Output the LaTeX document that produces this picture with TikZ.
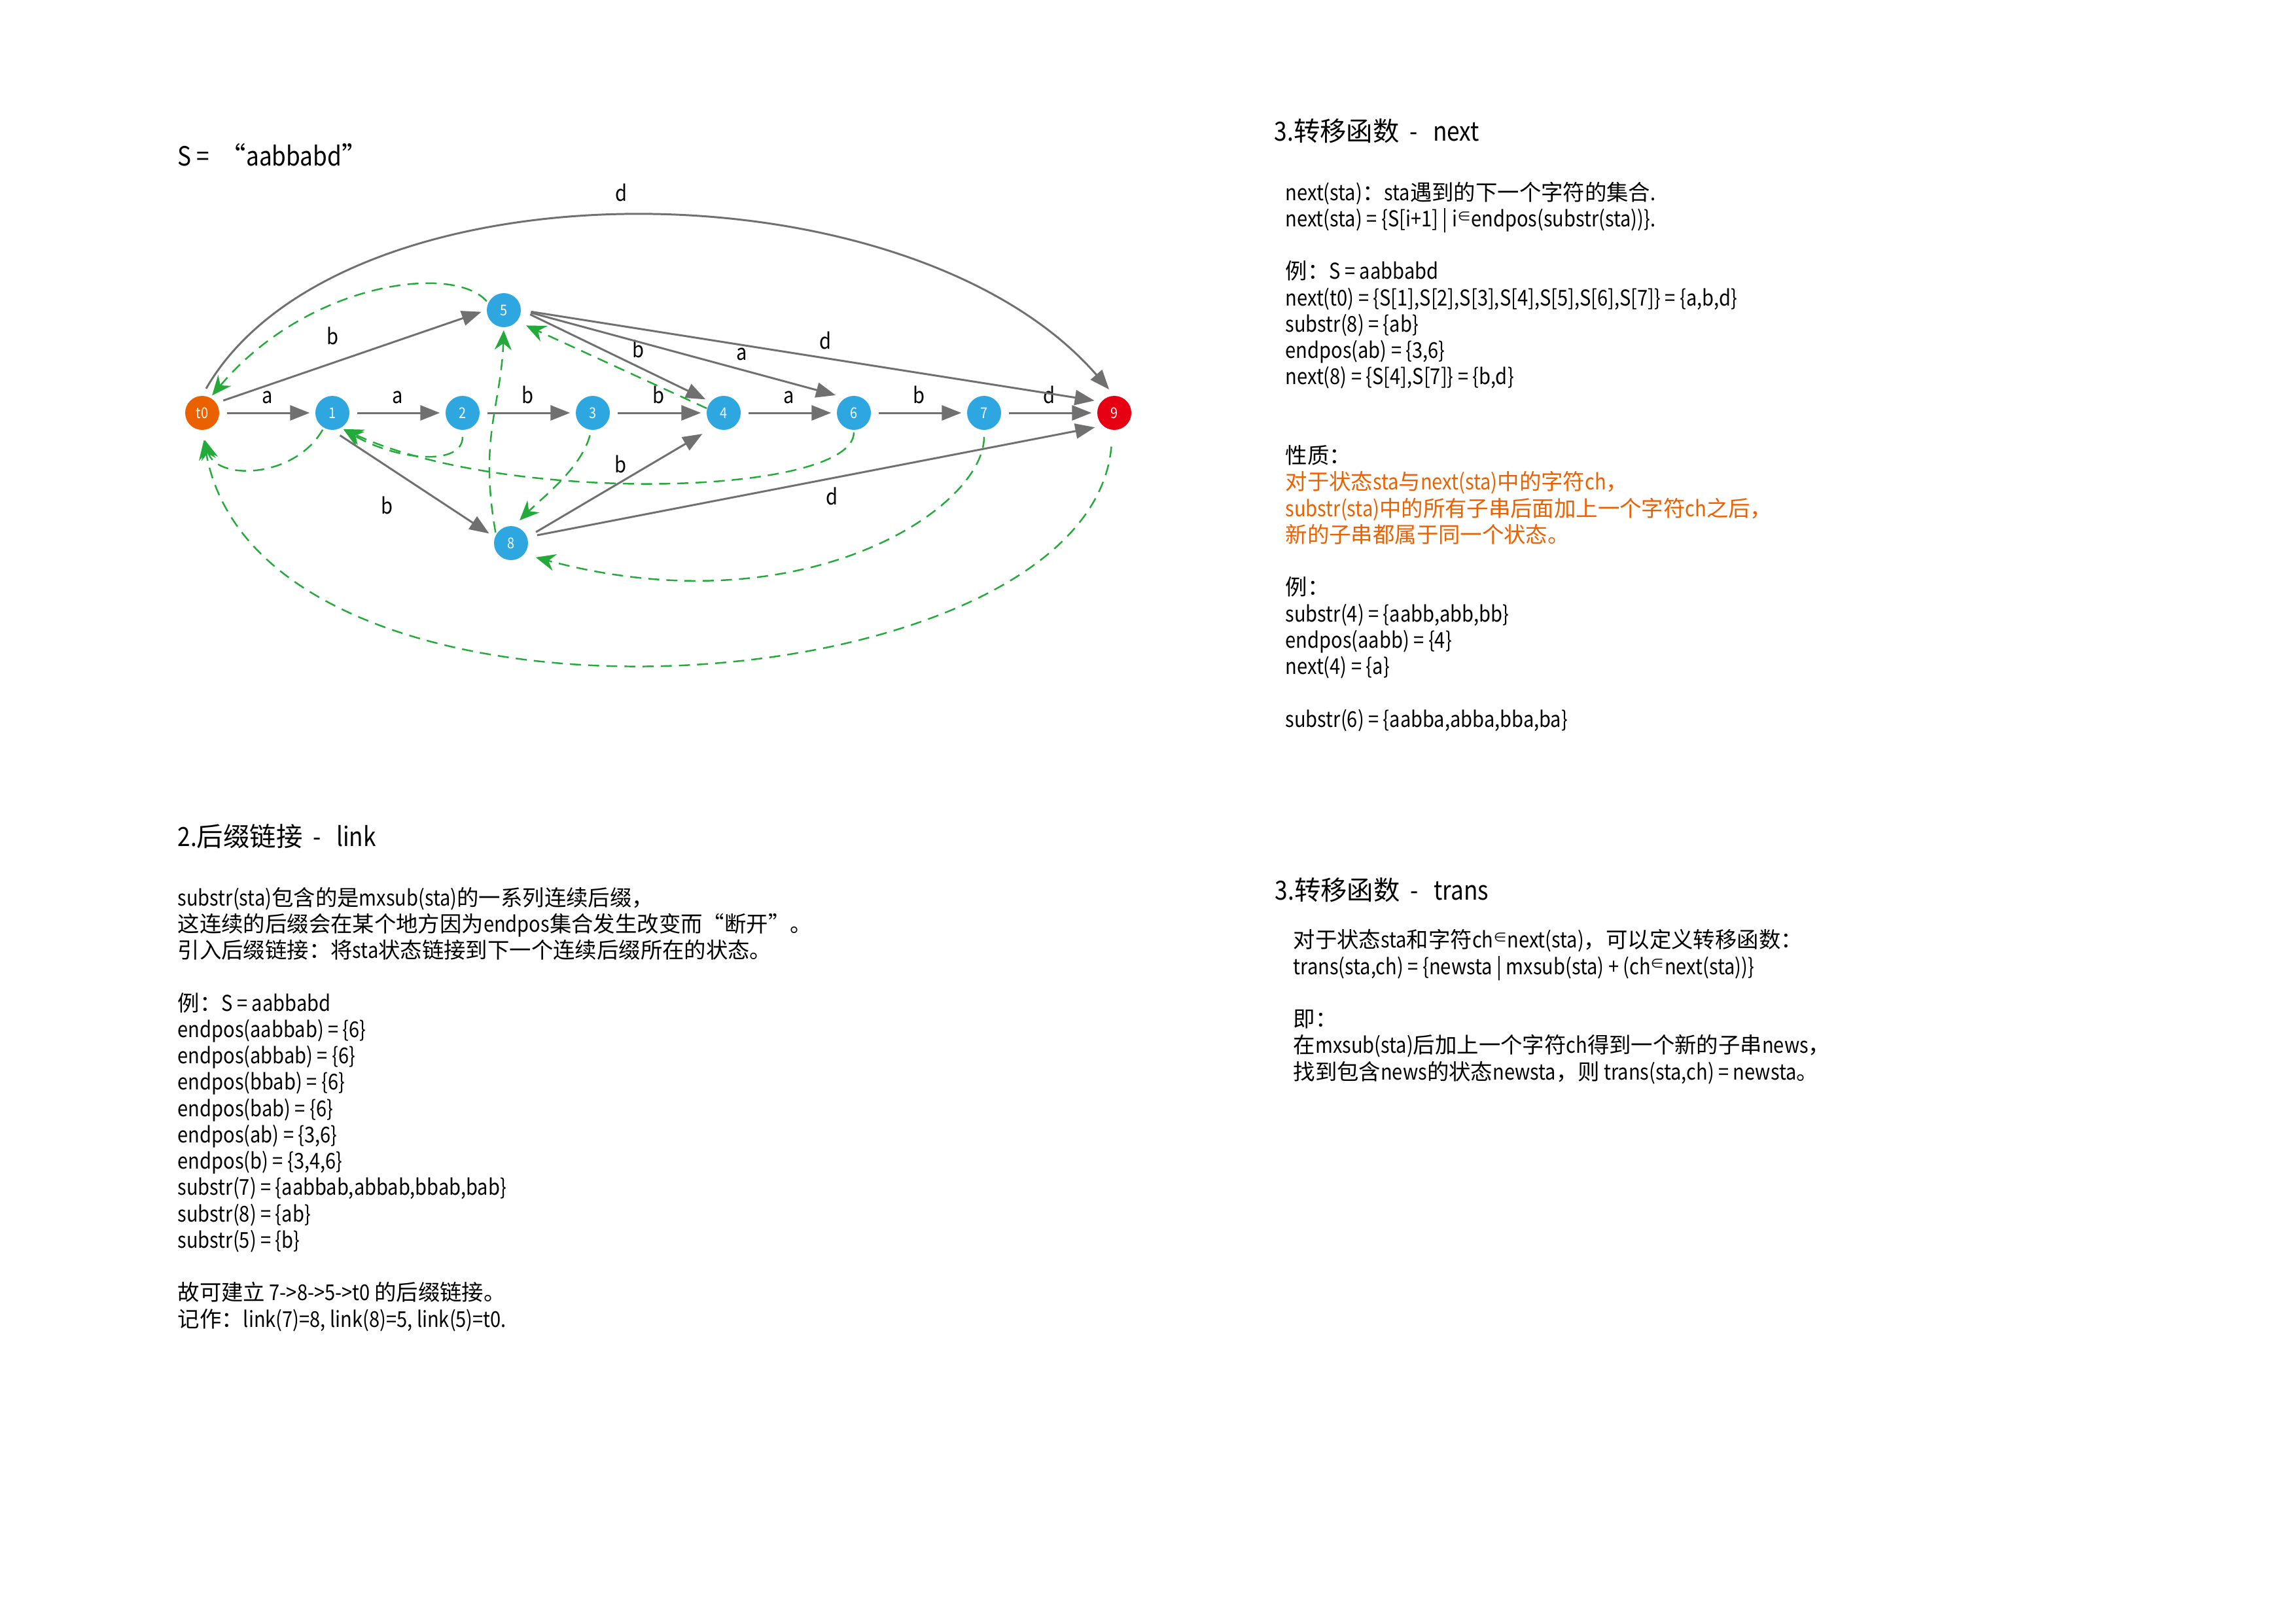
\documentclass[tikz,border=0pt]{standalone}
\usepackage{fontspec}
\newfontfamily\cjk{Noto Sans CJK SC}
\newfontfamily\latinfam[FakeStretch=0.87]{Noto Sans CJK SC}
\usetikzlibrary{arrows.meta}
\definecolor{startorange}{HTML}{EB6100}
\definecolor{stateblue}{HTML}{2EA7E0}
\definecolor{endred}{HTML}{E60012}
\definecolor{edgegray}{HTML}{707070}
\definecolor{linkgreen}{HTML}{24AA3A}
\newcommand{\smallin}{\raisebox{0.45ex}{\fontsize{6}{6}\selectfont ∈}}
% narrow latin letters, full width hanzi
\XeTeXinterchartokenstate=1
\newXeTeXintercharclass\hanziclass
\count255="4E00
\loop
  \XeTeXcharclass\count255=\hanziclass
  \advance\count255 by 1
\ifnum\count255<"A000 \repeat
\XeTeXcharclass"3002=\hanziclass
\XeTeXcharclass"FF1A=\hanziclass
\XeTeXcharclass"FF0C=\hanziclass
\XeTeXcharclass"201C=\hanziclass
\XeTeXcharclass"201D=\hanziclass
\XeTeXcharclass"2208=\hanziclass
\XeTeXinterchartoks 0 \hanziclass = {\cjk}
\XeTeXinterchartoks 4095 \hanziclass = {\cjk}
\XeTeXinterchartoks \hanziclass 0 = {\latinfam}
\XeTeXinterchartoks \hanziclass 4095 = {\latinfam}

\begin{document}
\begin{tikzpicture}[
  state/.style={circle,minimum size=0.52cm,inner sep=0pt,text=white,font=\latinfam\fontsize{6.5}{7}\selectfont},
  tedge/.style={draw=edgegray,line width=0.85pt,-{Triangle[length=0.3cm,width=0.23cm]},shorten <=0.11cm,shorten >=0.08cm},
  slink/.style={draw=linkgreen,line width=0.7pt,dash pattern=on 4.8pt off 3.1pt,-{Stealth[length=0.3cm,width=0.26cm,inset=0.1cm]},shorten <=0.03cm,shorten >=0.04cm},
  lbl/.style={font=\latinfam\fontsize{9.5}{11}\selectfont,inner sep=3.5pt},
  head/.style={anchor=base west,inner sep=0pt,font=\latinfam\fontsize{11.5}{14}\selectfont},
  body/.style={anchor=base west,align=left,inner sep=0pt,font=\latinfam\fontsize{9.5}{11.45}\selectfont}]
  \useasboundingbox (0,0) rectangle (35.09,-24.81);

  % States
  \node[state,fill=startorange] (t0) at (3.09,-6.31) {t0};
  \node[state,fill=stateblue] (n1) at (5.08,-6.31) {1};
  \node[state,fill=stateblue] (n2) at (7.07,-6.31) {2};
  \node[state,fill=stateblue] (n3) at (9.06,-6.31) {3};
  \node[state,fill=stateblue] (n4) at (11.06,-6.31) {4};
  \node[state,fill=stateblue] (n6) at (13.05,-6.31) {6};
  \node[state,fill=stateblue] (n7) at (15.04,-6.31) {7};
  \node[state,fill=endred] (n9) at (17.03,-6.31) {9};
  \node[state,fill=stateblue] (n5) at (7.70,-4.74) {5};
  \node[state,fill=stateblue] (n8) at (7.81,-8.30) {8};

  % Transitions
  \draw[tedge] (t0) -- node[lbl,above]{a} (n1);
  \draw[tedge] (n1) -- node[lbl,above]{a} (n2);
  \draw[tedge] (n2) -- node[lbl,above]{b} (n3);
  \draw[tedge] (n3) -- node[lbl,above]{b} (n4);
  \draw[tedge] (n4) -- node[lbl,above]{a} (n6);
  \draw[tedge] (n6) -- node[lbl,above]{b} (n7);
  \draw[tedge] (n7) -- node[lbl,above]{d} (n9);
  \draw[tedge] (t0.35) -- node[lbl,pos=0.43,above=4pt]{b} (n5.west);
  \draw[tedge,shorten <=0.12cm,shorten >=0.12cm] (t0.north) to[out=60,in=131,out distance=4.2cm,in distance=4.8cm] node[lbl,pos=0.49,above=3pt]{d} (n9.north);
  \draw[tedge,shorten <=0.15cm] (n5.east) -- node[lbl,pos=0.62,above]{b} (n4.140);
  \draw[tedge,shorten <=0.15cm,shorten >=0.15cm] (n5.east) -- node[lbl,pos=0.68,above]{a} (n6.120);
  \draw[tedge,shorten <=0.15cm,shorten >=0.1cm] (n5.east) -- node[lbl,pos=0.525,above]{d} (n9.140);
  \draw[tedge,shorten <=0.14cm,shorten >=0.1cm] (n1.south) -- node[lbl,pos=0.47,below left=3pt]{b} (n8.160);
  \draw[tedge,shorten <=0.15cm,shorten >=0.2cm] (n8.20) -- node[lbl,above]{b} (n4.235);
  \draw[tedge,shorten <=0.15cm,shorten >=0.12cm] (n8.20) -- node[lbl,pos=0.53,below]{d} (n9.228);

  % Suffix links
  \draw[slink,shorten >=0.15cm] (n1.240) .. controls +(240:0.9) and +(-75:0.8) .. (t0.270);
  \draw[slink,shorten <=0.1cm] (n2.270) .. controls +(270:0.55) and +(-30:1.0) .. (n1.-60);
  \draw[slink,shorten <=0.08cm,shorten >=0.12cm] (n3.265) .. controls +(255:0.6) and +(45:0.6) .. (n8.80);
  \draw[slink,shorten <=0cm,shorten >=0.15cm] (n4.165) -- (n5.-40);
  \draw[slink] (n5.155) .. controls +(131:0.8) and +(50:2.3) .. (t0.62);
  \draw[slink] (n6.270) .. controls +(270:1.0) and +(-25:2.8) .. (n1.-60);
  \draw[slink,shorten <=0.1cm,shorten >=0.18cm] (n7.270) .. controls +(270:1.2) and +(-15:4.4) .. (n8.-40);
  \draw[slink] (n8.150) .. controls +(100:1.5) and +(268:1.2) .. (n5.270);
  \draw[slink,shorten <=0.25cm,shorten >=0.15cm] (n9.265) .. controls +(265:4.3) and +(-80:5.2) .. (t0.270);

  % Text
  \node[head] (title) at (2.71,-2.53) {S =~~“aabbabd”};

  \node[head] (nexthead) at (19.47,-2.15) {3.转移函数~~-~~~next};
  \node[body] (nexttext) at (19.64,-11.11) {%
    next(sta)：sta遇到的下一个字符的集合.\\
    next(sta) = \{S[i+1] | i\smallin endpos(substr(sta))\}.\\[11.45pt]
    例：S = aabbabd\\
    next(t0) = \{S[1],S[2],S[3],S[4],S[5],S[6],S[7]\} = \{a,b,d\}\\
    substr(8) = \{ab\}\\
    endpos(ab) = \{3,6\}\\
    next(8) = \{S[4],S[7]\} = \{b,d\}\\[22.9pt]
    性质：\\
    \textcolor{startorange}{对于状态sta与next(sta)中的字符ch，}\\
    \textcolor{startorange}{substr(sta)中的所有子串后面加上一个字符ch之后，}\\
    \textcolor{startorange}{新的子串都属于同一个状态。}\\[11.45pt]
    例：\\
    substr(4) = \{aabb,abb,bb\}\\
    endpos(aabb) = \{4\}\\
    next(4) = \{a\}\\[11.45pt]
    substr(6) = \{aabba,abba,bba,ba\}};

  \node[head] (linkhead) at (2.71,-12.93) {2.后缀链接~~-~~~link};
  \node[body] (linktext) at (2.71,-20.28) {%
    substr(sta)包含的是mxsub(sta)的一系列连续后缀，\\
    这连续的后缀会在某个地方因为endpos集合发生改变而“断开”。\\
    引入后缀链接：将sta状态链接到下一个连续后缀所在的状态。\\[11.45pt]
    例：S = aabbabd\\
    endpos(aabbab) = \{6\}\\
    endpos(abbab) = \{6\}\\
    endpos(bbab) = \{6\}\\
    endpos(bab) = \{6\}\\
    endpos(ab) = \{3,6\}\\
    endpos(b) = \{3,4,6\}\\
    substr(7) = \{aabbab,abbab,bbab,bab\}\\
    substr(8) = \{ab\}\\
    substr(5) = \{b\}\\[11.45pt]
    故可建立 7->8->5->t0 的后缀链接。\\
    记作：link(7)=8, link(8)=5, link(5)=t0.};

  \node[head] (transhead) at (19.48,-13.75) {3.转移函数~~-~~~trans};
  \node[body] (transtext) at (19.76,-16.50) {%
    对于状态sta和字符ch\smallin next(sta)，可以定义转移函数：\\
    trans(sta,ch) = \{newsta | mxsub(sta) + (ch\smallin next(sta))\}\\[11.45pt]
    即：\\
    在mxsub(sta)后加上一个字符ch得到一个新的子串news，\\
    找到包含news的状态newsta，则 trans(sta,ch) = newsta。};
\end{tikzpicture}
\end{document}
